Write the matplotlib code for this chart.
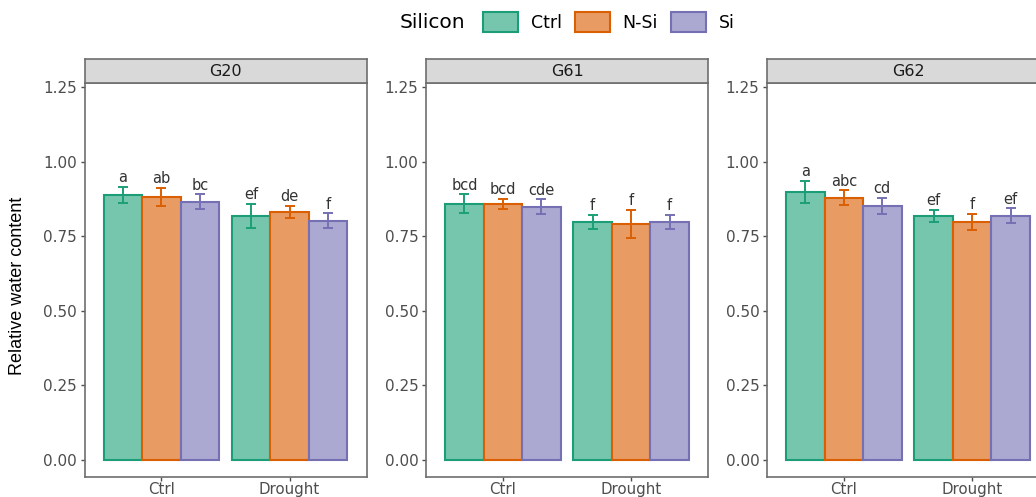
import numpy as np
import matplotlib.pyplot as plt
from matplotlib.patches import Patch
from matplotlib.offsetbox import HPacker

# relative water content per genotype, water regime and silicon treatment
genotypes = ['G20', 'G61', 'G62']
regimes = ['Ctrl', 'Drought']
silicon = ['Ctrl', 'N-Si', 'Si']

rwc = {
    'G20': [[0.888, 0.881, 0.865], [0.818, 0.831, 0.801]],
    'G61': [[0.858, 0.858, 0.848], [0.798, 0.791, 0.798]],
    'G62': [[0.898, 0.878, 0.851], [0.818, 0.798, 0.818]],
}
se = {
    'G20': [[0.027, 0.030, 0.025], [0.040, 0.020, 0.025]],
    'G61': [[0.032, 0.017, 0.025], [0.023, 0.047, 0.023]],
    'G62': [[0.037, 0.025, 0.027], [0.020, 0.027, 0.025]],
}
letters = {
    'G20': [['a', 'ab', 'bc'], ['ef', 'de', 'f']],
    'G61': [['bcd', 'bcd', 'cde'], ['f', 'f', 'f']],
    'G62': [['a', 'abc', 'cd'], ['ef', 'f', 'ef']],
}

edge_cols = ['#1b9e77', '#d95f02', '#7570b3']
fill_cols = ['#76c6ad', '#e89c64', '#aba8d1']
yticks = [0.0, 0.25, 0.5, 0.75, 1.0, 1.25]

plt.rcParams['font.family'] = ['DejaVu Sans']

W, H = 1036, 497
fig = plt.figure(figsize=(W / 100, H / 100), dpi=100)

lefts = [84.5, 426, 767]
pw = 282
top, bottom = 83, 477
strip_h = 24

bw = 0.3
for gi, g in enumerate(genotypes):
    ax = fig.add_axes([lefts[gi] / W, (H - bottom) / H, pw / W, (bottom - top) / H])
    for ri in range(len(regimes)):
        for si in range(len(silicon)):
            x = ri + 1 + (si - 1) * bw
            v = rwc[g][ri][si]
            e = se[g][ri][si]
            ax.bar(x, v, width=bw, color=fill_cols[si], edgecolor=edge_cols[si],
                   linewidth=1.5, zorder=2)
            ax.errorbar(x, v, yerr=e, fmt='none', ecolor=edge_cols[si],
                        elinewidth=1.4, capsize=3.8, capthick=1.4, zorder=3)
            ax.text(x, v + e + 0.006, letters[g][ri][si], ha='center', va='bottom',
                    fontsize=10.5, color='#333333', zorder=4)
    ax.set_xlim(0.4, 2.6)
    ax.set_ylim(-0.057, 1.263)
    ax.set_xticks([1, 2])
    ax.set_xticklabels(regimes, fontsize=10.8, color='#4d4d4d')
    ax.set_yticks(yticks)
    ax.set_yticklabels(['%.2f' % t for t in yticks], fontsize=11, color='#4d4d4d')
    ax.tick_params(length=3, width=1, color='#4d4d4d', pad=2.5)
    ax.tick_params(axis='x', pad=0.8)
    for s in ax.spines.values():
        s.set_color('#6e6e6e')
        s.set_linewidth(1.2)
    # facet strip
    sax = fig.add_axes([lefts[gi] / W, (H - top) / H, pw / W, strip_h / H])
    sax.set_facecolor('#d9d9d9')
    sax.set_xticks([])
    sax.set_yticks([])
    for s in sax.spines.values():
        s.set_color('#6e6e6e')
        s.set_linewidth(1.2)
    sax.text(0.5, 0.5, g, ha='center', va='center', fontsize=11.5,
             color='#1a1a1a', transform=sax.transAxes)

fig.text(18 / W, 1 - 286 / H, 'Relative water content', rotation=90,
         ha='center', va='center', fontsize=13, family=['Liberation Sans'])

handles = [Patch(facecolor=fill_cols[i], edgecolor=edge_cols[i], linewidth=1.5)
           for i in range(3)]
leg = fig.legend(handles, silicon, loc='center', bbox_to_anchor=(567 / W, 1 - 22 / H),
                 ncol=3, frameon=False, title='Silicon', fontsize=12.5,
                 title_fontsize=14.5, handlelength=2.0, handleheight=1.38,
                 columnspacing=0.75, handletextpad=0.75, borderpad=0)
# title sits to the left of the keys
leg._legend_box._children = [HPacker(children=[leg._legend_title_box, leg._legend_handle_box],
                                     align='center', pad=0, sep=13)]

fig.savefig('out.png', dpi=100)
